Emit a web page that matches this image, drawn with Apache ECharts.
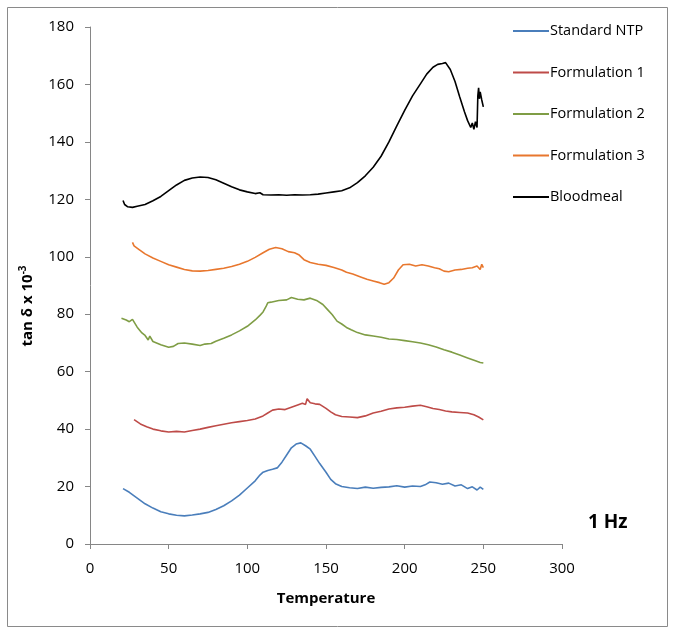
<!DOCTYPE html>
<html><head><meta charset="utf-8">
<script src="https://cdn.jsdelivr.net/npm/echarts@6/dist/echarts.min.js"></script>
<style>html,body{margin:0;padding:0;background:#fff}#c{width:676px;height:635px}</style>
</head><body><div id="c"></div>
<script>
const seriesNames = ['Standard NTP','Formulation 1','Formulation 2','Formulation 3','Bloodmeal'];
const colors = ['#4a7ebb','#be4b48','#7f9d45','#e8772e','#000000'];
const xTicks = [0,50,100,150,200,250,300];
const yTicks = [0,20,40,60,80,100,120,140,160,180];

const standardNTP = [[21,19.3],[25,18],[30,16],[35,14],[40,12.5],[45,11.2],[50,10.5],[55,10],[60,9.8],[65,10.1],[70,10.5],[75,11],[80,12],[85,13.3],[90,15],[95,17],[100,19.5],[105,22],[108,24],[110,25],[113,25.6],[116,26],[119,26.5],[122,28.5],[125,31],[128,33.5],[131,34.8],[134,35.2],[137,34.2],[140,33],[143,30.5],[146,28],[150,25],[153,22.5],[156,21],[160,20],[165,19.6],[170,19.3],[175,19.8],[180,19.4],[185,19.7],[190,19.9],[195,20.3],[200,19.8],[205,20.2],[210,20],[213,20.6],[216,21.6],[220,21.3],[224,20.8],[228,21.2],[232,20.2],[236,20.6],[240,19.3],[243,19.9],[246,18.8],[248,19.8],[250,19]];
const formulation1 = [[28,43.3],[32,41.8],[36,40.8],[40,40],[45,39.4],[50,39],[55,39.2],[60,39],[65,39.5],[70,40],[75,40.6],[80,41.2],[85,41.7],[90,42.2],[95,42.6],[100,43],[105,43.5],[110,44.6],[113,45.6],[116,46.6],[120,47],[124,46.8],[128,47.6],[132,48.4],[135,49],[137,48.6],[138,50.6],[140,49.2],[143,48.8],[146,48.6],[150,47.2],[153,46],[156,45],[160,44.4],[165,44.2],[170,44],[175,44.6],[180,45.6],[185,46.2],[190,47],[195,47.4],[200,47.6],[205,48],[210,48.3],[214,47.8],[218,47.2],[222,46.8],[226,46.3],[230,46],[235,45.8],[240,45.6],[244,45],[247,44.2],[250,43.2]];
const formulation2 = [[20,78.6],[23,78],[25,77.4],[27,78.2],[30,75.5],[33,73.5],[35,72.6],[37,71],[38,72.4],[40,70.5],[45,69.4],[50,68.5],[53,68.8],[56,69.8],[60,70],[65,69.6],[70,69.1],[73,69.6],[77,69.8],[80,70.6],[85,71.6],[90,72.8],[95,74.2],[100,75.8],[105,78],[108,79.6],[110,80.8],[112,82.8],[113,84],[115,84.2],[120,84.8],[125,85],[128,85.8],[132,85.2],[136,85],[140,85.6],[144,84.8],[148,83.4],[151,81.6],[154,79.8],[157,77.6],[160,76.6],[163,75.4],[166,74.6],[170,73.6],[175,72.8],[180,72.4],[185,72],[190,71.4],[195,71.2],[200,70.8],[205,70.4],[210,70],[215,69.4],[220,68.6],[225,67.6],[230,66.8],[235,65.8],[240,64.8],[245,63.8],[248,63.2],[250,63]];
const formulation3 = [[27,105],[28,103.8],[31,102.6],[35,101],[40,99.6],[45,98.4],[50,97.2],[55,96.4],[60,95.6],[65,95.1],[70,95],[75,95.2],[80,95.6],[85,96],[90,96.6],[95,97.4],[100,98.4],[105,99.8],[110,101.4],[114,102.6],[118,103.2],[122,102.8],[126,101.8],[130,101.4],[133,100.6],[136,99],[140,98],[145,97.4],[150,97],[155,96.3],[160,95.4],[163,94.6],[167,94],[172,93],[176,92.2],[180,91.6],[184,91],[187,90.4],[190,91],[193,92.6],[196,95.4],[199,97.2],[203,97.4],[207,96.8],[211,97.2],[215,96.8],[219,96.2],[222,95.8],[225,95],[228,94.8],[232,95.4],[236,95.6],[240,96],[243,96.2],[246,96.8],[248,95.6],[249,97.4],[250,96.2]];
const bloodmeal = [[21,119.6],[22,118.2],[24,117.4],[27,117.2],[30,117.6],[35,118.2],[40,119.5],[45,121],[50,123],[55,125],[60,126.6],[65,127.4],[70,127.8],[75,127.6],[80,126.8],[85,125.6],[90,124.4],[95,123.3],[100,122.6],[105,122],[108,122.3],[110,121.6],[115,121.5],[120,121.6],[125,121.4],[130,121.6],[135,121.5],[140,121.6],[145,121.8],[150,122.2],[155,122.6],[160,123],[165,124],[170,125.8],[175,128.2],[180,131.2],[185,135],[190,140],[195,145.6],[200,151],[205,156],[210,160.2],[214,163.6],[218,166],[221,167],[224,167.3],[226,167.6],[229,165.2],[232,161],[235,155.6],[238,150.5],[240,147.4],[242,145],[243,146.6],[244,144.4],[245,147],[246,145],[246.5,156],[247,158.8],[247.5,155],[248,157.4],[249,154.6],[250,152.2]];

const dataSets = [standardNTP, formulation1, formulation2, formulation3, bloodmeal];
const FONT = '"Open Sans", sans-serif';

const chart = echarts.init(document.getElementById('c'));
chart.setOption({
  animation: false,
  backgroundColor: '#fff',
  grid: {left: 90, right: 114, top: 27, bottom: 91, containLabel: false},
  graphic: [
    {type: 'rect', shape: {x: 7.5, y: 7.5, width: 660, height: 619}, style: {fill: 'none', stroke: '#8a8a8a', lineWidth: 1}, silent: true},
    {type: 'text', left: 588, top: 513, style: {text: '1 Hz', font: 'bold 19px ' + FONT, fill: '#000'}},
    {type: 'text', x: 28, y: 306, rotation: Math.PI / 2, style: {
      text: '{a|tan δ x 10}{s|-3}', align: 'center', verticalAlign: 'middle',
      rich: {
        a: {fontWeight: 'bold', fontSize: 15, fontFamily: FONT, fill: '#000'},
        s: {fontWeight: 'bold', fontSize: 10, fontFamily: FONT, fill: '#000', verticalAlign: 'top', padding: [0,0,10,0]}
      }
    }}
  ],
  legend: {
    orient: 'vertical', left: 508, top: 18,
    itemWidth: 36, itemHeight: 2, itemGap: 25.5, icon: 'rect',
    textStyle: {fontSize: 14.5, fontFamily: FONT, color: '#000', lineHeight: 16, padding: [0,0,0,-4]},
    data: seriesNames
  },
  xAxis: {
    type: 'value', min: 0, max: 300, interval: 50,
    name: 'Temperature', nameLocation: 'middle', nameGap: 47,
    nameTextStyle: {fontWeight: 'bold', fontSize: 15, fontFamily: FONT, color: '#000'},
    axisLine: {show: true, lineStyle: {color: '#868686'}},
    axisTick: {show: true, length: 5, lineStyle: {color: '#868686'}},
    axisLabel: {fontSize: 15, color: '#000', fontFamily: FONT, margin: 17},
    splitLine: {show: false}
  },
  yAxis: {
    type: 'value', min: 0, max: 180, interval: 20,
    axisLine: {show: true, lineStyle: {color: '#868686'}},
    axisTick: {show: true, length: 5, lineStyle: {color: '#868686'}},
    axisLabel: {fontSize: 15, color: '#000', fontFamily: FONT, margin: 16},
    splitLine: {show: false}
  },
  series: seriesNames.map((n, i) => ({
    name: n, type: 'line', data: dataSets[i], showSymbol: false, symbol: 'none',
    lineStyle: {color: colors[i], width: 1.6}, itemStyle: {color: colors[i]}
  }))
});
</script></body></html>
